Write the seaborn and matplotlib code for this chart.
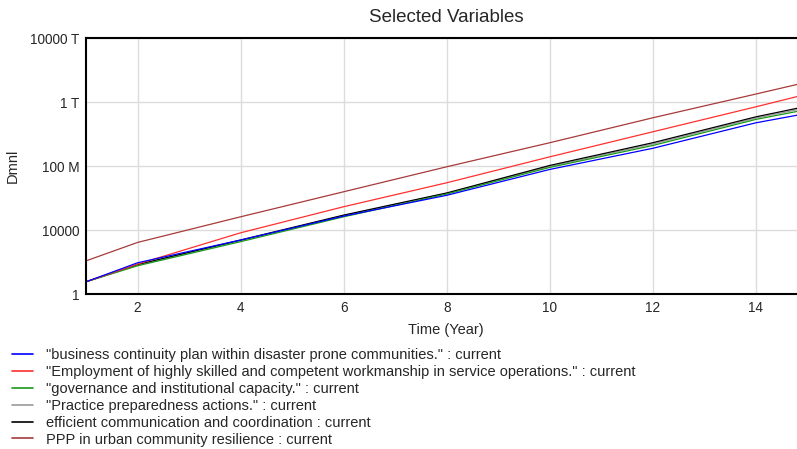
import matplotlib
matplotlib.use("Agg")
import matplotlib.pyplot as plt
import matplotlib.ticker as mticker
import pandas as pd
import seaborn as sns

# Values (log scale, Dmnl)
years = [1, 2, 4, 6, 8, 10, 12, 14, 15]
ppp = [120, 1.7e3, 6.8e4, 2.5e6, 9.1e7, 2.9e9, 1.05e11, 3.2e12, 1.8e13]
employment = [5.9, 75, 6.8e3, 2.9e5, 9.1e6, 3.8e8, 1.4e10, 5.1e11, 3.2e12]
communication = [5.9, 71, 2.4e3, 8.7e4, 2.1e6, 1.1e8, 2.9e9, 1.2e11, 5.6e11]
practice = [5.9, 65, 2.2e3, 8.0e4, 2.0e6, 9.5e7, 2.4e9, 1.0e11, 4.5e11]
governance = [5.9, 59, 1.9e3, 6.8e4, 1.8e6, 8.3e7, 1.95e9, 8.3e10, 3.5e11]
business = [5.9, 91, 2.4e3, 7.5e4, 1.5e6, 6.2e7, 1.3e9, 5.1e10, 2.0e11]

labels = [
    '"business continuity plan within disaster prone communities." : current',
    '"Employment of highly skilled and competent workmanship in service operations." : current',
    '"governance and institutional capacity." : current',
    '"Practice preparedness actions." : current',
    'efficient communication and coordination : current',
    'PPP in urban community resilience : current',
]
series = [business, employment, governance, practice, communication, ppp]
colors = ['#0000ff', '#ff3030', '#1a9a1a', '#9a9a9a', '#000000', '#a83a3a']

y_ticks = [1, 1e4, 1e8, 1e12, 1e16]
y_tick_labels = ['1', '10000', '100 M', '1 T', '10000 T']

rows = []
for lab, vals in zip(labels, series):
    for t, v in zip(years, vals):
        rows.append({'Time': t, 'Value': v, 'Variable': lab})
df = pd.DataFrame(rows)

sns.set_style('white')
plt.rcParams['font.family'] = ['Liberation Sans', 'DejaVu Sans']

fig = plt.figure(figsize=(7.97, 4.49), dpi=100)
ax = fig.add_axes([0.108, 0.345, 0.892, 0.570])

# draw order so blue stays on top like the reference
draw_order = [5, 3, 4, 2, 1, 0]
for i in draw_order:
    sub = df[df['Variable'] == labels[i]]
    sns.lineplot(data=sub, x='Time', y='Value', color=colors[i], lw=0.9, ax=ax,
                 legend=False, estimator=None)

ax.set_yscale('log')
ax.set_ylim(1, 1e16)
ax.set_xlim(1, 14.8)
ax.set_yticks(y_ticks)
ax.set_yticklabels(y_tick_labels)
ax.yaxis.set_minor_locator(mticker.NullLocator())
ax.set_xticks([2, 4, 6, 8, 10, 12, 14])
ax.tick_params(axis='both', length=0, labelsize=9.8, pad=5)
ax.grid(True, color='#dcdcdc', lw=1.0)
ax.set_axisbelow(True)

for side in ['left', 'bottom', 'top']:
    ax.spines[side].set_color('black')
    ax.spines[side].set_linewidth(1.5)
ax.spines['right'].set_visible(False)

ax.set_xlabel('Time (Year)', fontsize=10.5)
ax.xaxis.set_label_coords((446 - 86) / 711, -0.113)
ax.set_ylabel('Dmnl', fontsize=10.5)
ax.yaxis.set_label_coords(-0.093, 0.5)
fig.text(446 / 797, 1 - 17 / 449, 'Selected Variables', ha='center', va='center',
         fontsize=13.5)

# legend below the plot
handles = [plt.Line2D([], [], color=c, lw=1.2) for c in colors]
fig.legend(handles, labels, loc='upper left', bbox_to_anchor=(0.015, 0.225),
           frameon=False, fontsize=10.5, handlelength=1.45, handletextpad=0.9,
           labelspacing=0.2, borderaxespad=0, borderpad=0)

plt.savefig('out.png', dpi=100)
plt.close(fig)
